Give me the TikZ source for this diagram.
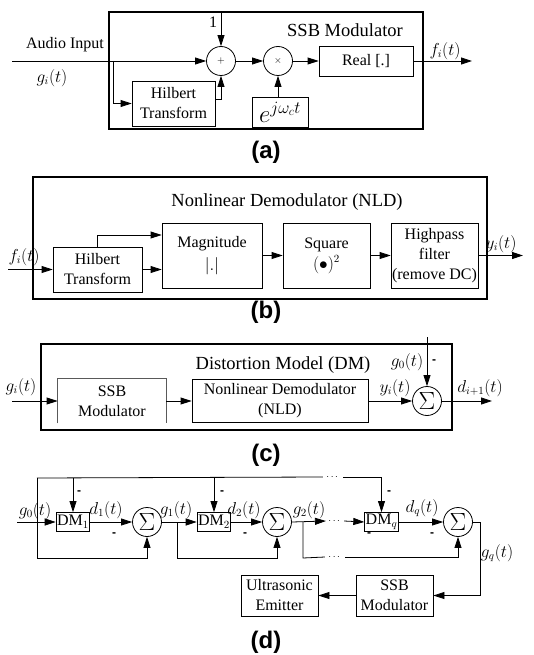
\documentclass[tikz,border=0pt]{standalone}
\usepackage{fontspec}
\setmainfont{Liberation Serif}
\newfontfamily\labfont{Liberation Sans}
\usepackage{amsmath}
\usepackage{tikz}
\usetikzlibrary{arrows.meta,positioning,calc}

\tikzset{
  blk/.style={draw, line width=0.8pt, align=center, inner sep=1pt},
  sumc/.style={circle, draw, line width=0.8pt, minimum size=29pt, inner sep=0pt},
  frame/.style={draw, line width=1.3pt},
  lbl/.style={inner sep=1pt},
  title/.style={font=\fontsize{18.5}{20}\selectfont},
  minus/.style={inner sep=0pt, font=\labfont\bfseries\large},
  panel/.style={font=\labfont\bfseries\fontsize{24}{26}\selectfont}
}
\newcommand{\sigm}{\fontsize{26}{26}\selectfont$\Sigma$}

\begin{document}
\begin{tikzpicture}[x=1pt, y=-1pt, >={Stealth[length=11pt,width=7pt,inset=0pt]},
  line width=0.8pt, font=\fontsize{16}{20}\selectfont]
  \useasboundingbox (0,0) rectangle (533,655);

  % (a) SSB modulator
  \draw[frame] (109,12) rectangle (423,129);
  \node[title] (titA) at (345,30) {SSB Modulator};
  \node[sumc] (plus) at (221,61) {\normalsize$+$};
  \node[sumc] (times) at (278,61) {\normalsize$\times$};
  \node[blk, minimum width=83, minimum height=45] (hilA) at (173.5,103.5) {Hilbert\\Transform};
  \node[blk, minimum width=56, minimum height=30] (expA) at (280,112) {\fontsize{26}{26}\selectfont$e^{j\omega_c t}$};
  \node[blk, minimum width=94, minimum height=30] (realA) at (366,61) {Real [.]};
  \coordinate (inA) at (12,61);
  \coordinate (brA) at (113,61);
  \coordinate (oneA) at (221,13);
  \coordinate (outA) at (472,61);
  \node[lbl] (audio) at (65,45) {Audio Input};
  \node[lbl] (giA) at (52,78) {$g_i(t)$};
  \node[lbl] (one) at (213,22) {1};
  \node[lbl] (fiA) at (445,51) {$f_i(t)$};
  \node[panel] (pa) at (266,152) {(a)};

  \draw[->] (inA) -- (plus.west);
  \draw[->] (brA) |- (hilA.west);
  \draw[->] ([yshift=4pt]hilA.east) -| (plus.south);
  \draw[->] (oneA) -- (plus.north);
  \draw[->] (plus) -- (times);
  \draw[->] (expA.north -| times) -- (times.south);
  \draw[->] (times) -- (realA);
  \draw[->] (realA) -- (outA);

  % (b) nonlinear demodulator
  \draw[frame] (33,177) rectangle (487,299);
  \node[title] (titB) at (287,202) {Nonlinear Demodulator (NLD)};
  \node[blk, minimum width=89, minimum height=45] (hilB) at (97.5,269.5) {Hilbert\\Transform};
  \node[blk, minimum width=100, minimum height=65] (magB) at (212,255.5) {Magnitude\\[3pt]$|.|$};
  \node[blk, minimum width=87, minimum height=65] (sqB) at (326.5,255.5) {Square\\[1pt]$(\bullet)^2$};
  \node[blk, minimum width=87, minimum height=65] (hpB) at (434.5,255.5) {Highpass\\filter\\(remove DC)};
  \coordinate (inB) at (8,269.5);
  \coordinate (outB) at (523,255.5);
  \node[lbl] (fiB) at (24,257) {$f_i(t)$};
  \node[lbl] (yiB) at (501,244) {$y_i(t)$};
  \node[panel] (pb) at (266,312) {(b)};

  \draw[->] (inB) -- (hilB.west);
  \draw[->] (hilB.east) -- (hilB.east -| magB.west);
  \draw[->] (hilB.north) |- ([yshift=20.5pt]magB.west);
  \draw[->] (magB) -- (sqB);
  \draw[->] (sqB) -- (hpB);
  \draw[->] (hpB) -- (outB);

  % (c) distortion model
  \draw[frame] (41,344) rectangle (452,430);
  \node[title] (titC) at (283,365) {Distortion Model (DM)};
  \node[minimum width=108, minimum height=44, align=center, inner sep=1pt] (ssbC) at (112,401) {SSB\\Modulator};
  \draw[gray!70!black, line width=0.6pt] (ssbC.south west) |- (ssbC.north east) -- (ssbC.south east);
  \node[blk, minimum width=176, minimum height=43] (nldC) at (280,401) {Nonlinear Demodulator\\(NLD)};
  \node[sumc] (sigC) at (427,401) {\sigm};
  \coordinate (inC) at (12,401);
  \coordinate (g0C) at (427,337);
  \coordinate (outC) at (492,401);
  \node[lbl] (giC) at (21,387) {$g_i(t)$};
  \node[lbl] (yiC) at (395,388) {$y_i(t)$};
  \node[lbl] (g0lab) at (407,362) {$g_0(t)$};
  \node[minus] (mC) at (434,362) {-};
  \node[lbl] (dC) at (480,388) {$d_{i+1}(t)$};
  \node[panel] (pc) at (266,455) {(c)};

  \draw[->] (inC) -- (ssbC.west);
  \draw[->] (ssbC) -- (nldC);
  \draw[->] (nldC) -- (sigC);
  \draw[->] (g0C) -- (sigC.north);
  \draw[->] (sigC) -- (outC);

  % (d) cascade of distortion models
  \node[blk, minimum width=32, minimum height=19] (dm1) at (73,522) {DM$_1$};
  \node[sumc] (sum1) at (147,522) {\sigm};
  \node[blk, minimum width=32, minimum height=19] (dm2) at (214,522) {DM$_2$};
  \node[sumc] (sum2) at (277,522) {\sigm};
  \node[inner sep=2pt] (mdots) at (335,521) {\normalsize$\cdots$};
  \node[blk, minimum width=33, minimum height=19] (dmq) at (381.5,522) {DM$_q$};
  \node[sumc] (sumq) at (458,522) {\sigm};
  \node[inner sep=3pt] (tdots) at (333,477) {\normalsize$\cdots$};
  \node[inner sep=3pt] (bdots) at (335,557) {\normalsize$\cdots$};
  \node[blk, minimum width=77, minimum height=41] (emit) at (279.5,595.5) {Ultrasonic\\Emitter};
  \node[blk, minimum width=77, minimum height=41] (ssbD) at (394.5,595.5) {SSB\\Modulator};
  \coordinate (in0) at (17,522);
  \coordinate (c0) at (37,478);
  \coordinate (c1) at (37,558);
  \coordinate (b1) at (177,522);
  \coordinate (b1d) at (177,558);
  \coordinate (b2) at (303,522);
  \coordinate (b2d) at (303,558);
  \coordinate (cq) at (480,522);
  \node[lbl] (g0D) at (35,511) {$g_0(t)$};
  \node[lbl] (d1) at (106,510) {$d_1(t)$};
  \node[lbl] (g1) at (176,510) {$g_1(t)$};
  \node[lbl] (d2) at (244,510) {$d_2(t)$};
  \node[lbl] (g2) at (309,510) {$g_2(t)$};
  \node[lbl] (dq) at (422,508) {$d_q(t)$};
  \node[lbl] (gq) at (497,553) {$g_q(t)$};
  \node[minus] (m1) at (79,493) {-};
  \node[minus] (m2) at (114,535) {-};
  \node[minus] (m3) at (222,493) {-};
  \node[minus] (m4) at (245,535) {-};
  \node[minus] (m5) at (389,493) {-};
  \node[minus] (m6) at (369,535) {-};
  \node[minus] (m7) at (432,535) {-};
  \node[panel] (pd) at (266,642) {(d)};

  \draw (c0) -- (tdots.west);
  \draw[->] (tdots.east) -| (dmq.north);
  \draw[->] (dm1.north |- c0) -- (dm1.north);
  \draw[->] (dm2.north |- c0) -- (dm2.north);
  \draw[->] (c0) -- (c1) -| (sum1.south);
  \draw[->] (in0) -- (dm1.west);
  \draw[->] (dm1) -- (sum1);
  \draw[->] (sum1) -- (dm2);
  \draw[->] (b1) -- (b1d) -| (sum2.south);
  \draw[->] (dm2) -- (sum2);
  \draw[->] (sum2.east) -- (mdots.west);
  \draw[->] (mdots.east) -- (dmq.west);
  \draw (b2) -- (b2d) -- (bdots.west);
  \draw[->] (bdots.east) -| (sumq.south);
  \draw[->] (dmq) -- (sumq);
  \draw[->] (sumq.east) -- (cq) |- (ssbD.east);
  \draw[->] (ssbD) -- (emit);
\end{tikzpicture}
\end{document}
